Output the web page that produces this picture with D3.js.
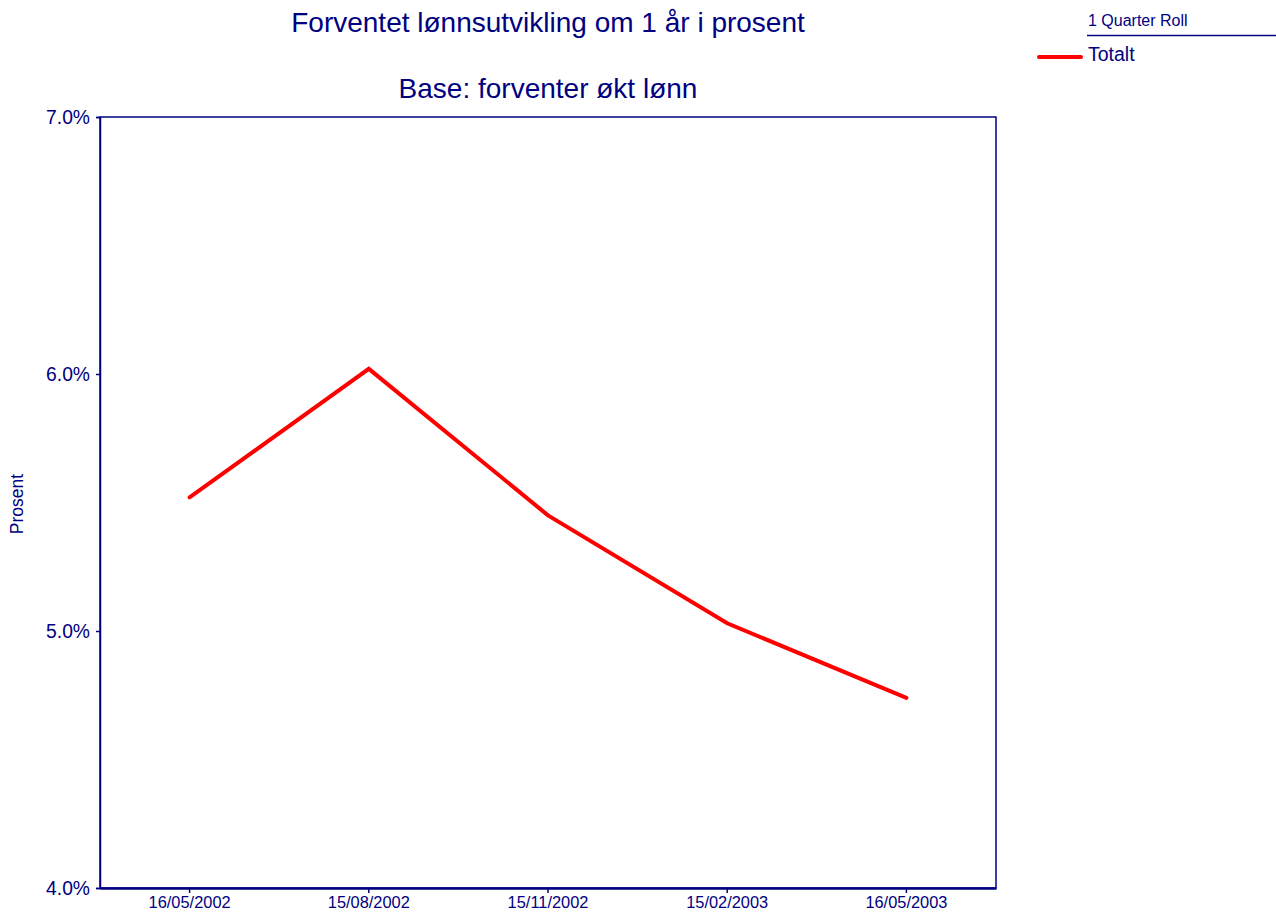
<!DOCTYPE html>
<html>
<head>
<meta charset="utf-8">
<script src="https://cdn.jsdelivr.net/npm/d3@7"></script>
<style>
  body { margin: 0; background: #fff; }
  svg { display: block; font-family: "Liberation Sans", Arial, sans-serif; }
</style>
</head>
<body>
<svg id="chart" width="1276" height="915"></svg>
<script>
// Survey dates and expected wage growth (percent)
const dates = ["16/05/2002", "15/08/2002", "15/11/2002", "15/02/2003", "16/05/2003"];
const totalt = [5.52, 6.02, 5.45, 5.03, 4.74];
const yTicks = [4.0, 5.0, 6.0, 7.0];
const seriesName = "Totalt";
const legendTitle = "1 Quarter Roll";

const navy = "#000080";
const red = "#ff0000";

const svg = d3.select("#chart");
const plot = { left: 100, top: 117, right: 996, bottom: 888 };

const x = d3.scaleBand().domain(dates).range([plot.left, plot.right]);
const y = d3.scaleLinear().domain([4.0, 7.0]).range([plot.bottom, plot.top]);

// Titles
svg.append("text").attr("x", 548).attr("y", 32).attr("text-anchor", "middle")
  .attr("fill", navy).attr("font-size", 28).text("Forventet lønnsutvikling om 1 år i prosent");
svg.append("text").attr("x", 548).attr("y", 98).attr("text-anchor", "middle")
  .attr("fill", navy).attr("font-size", 28).text("Base: forventer økt lønn");

// Plot frame
svg.append("rect").attr("x", plot.left).attr("y", plot.top)
  .attr("width", plot.right - plot.left).attr("height", plot.bottom - plot.top)
  .attr("fill", "none").attr("stroke", navy).attr("stroke-width", 1.5);

// Y axis
const yAxis = svg.append("g").attr("transform", `translate(${plot.left},0)`)
  .call(d3.axisLeft(y).tickValues(yTicks).tickSize(4).tickPadding(6).tickFormat(d => d.toFixed(1) + "%"));
yAxis.select(".domain").attr("stroke", navy).attr("stroke-width", 1.5);
yAxis.selectAll(".tick line").attr("stroke", navy).attr("stroke-width", 1.5);
yAxis.selectAll(".tick text").attr("fill", navy).attr("font-size", 19.3)
  .attr("font-family", "Liberation Sans, Arial, sans-serif");

// X axis
const xAxis = svg.append("g").attr("transform", `translate(0,${plot.bottom})`)
  .call(d3.axisBottom(x).tickSize(5).tickPadding(3).tickSizeOuter(0));
xAxis.select(".domain").attr("stroke", navy).attr("stroke-width", 2.5);
xAxis.selectAll(".tick line").attr("stroke", navy).attr("stroke-width", 1.5);
xAxis.selectAll(".tick text").attr("fill", navy).attr("font-size", 16.4)
  .attr("font-family", "Liberation Sans, Arial, sans-serif");

// Y axis title
svg.append("text").attr("transform", "translate(23,504) rotate(-90)")
  .attr("text-anchor", "middle").attr("fill", navy).attr("font-size", 17.5).text("Prosent");

// Series line
const line = d3.line().x((d, i) => x(dates[i]) + x.bandwidth() / 2).y(d => y(d));
svg.append("path").datum(totalt).attr("d", line)
  .attr("fill", "none").attr("stroke", red).attr("stroke-width", 4)
  .attr("stroke-linejoin", "miter").attr("stroke-linecap", "round");

// Legend
svg.append("text").attr("x", 1088).attr("y", 26).attr("fill", navy)
  .attr("font-size", 16).text(legendTitle);
svg.append("line").attr("x1", 1087).attr("x2", 1276).attr("y1", 35.5).attr("y2", 35.5)
  .attr("stroke", navy).attr("stroke-width", 1.5);
svg.append("line").attr("x1", 1039).attr("x2", 1081).attr("y1", 57).attr("y2", 57)
  .attr("stroke", red).attr("stroke-width", 4).attr("stroke-linecap", "round");
svg.append("text").attr("x", 1088).attr("y", 61).attr("fill", navy)
  .attr("font-size", 19.5).text(seriesName);
</script>
</body>
</html>
